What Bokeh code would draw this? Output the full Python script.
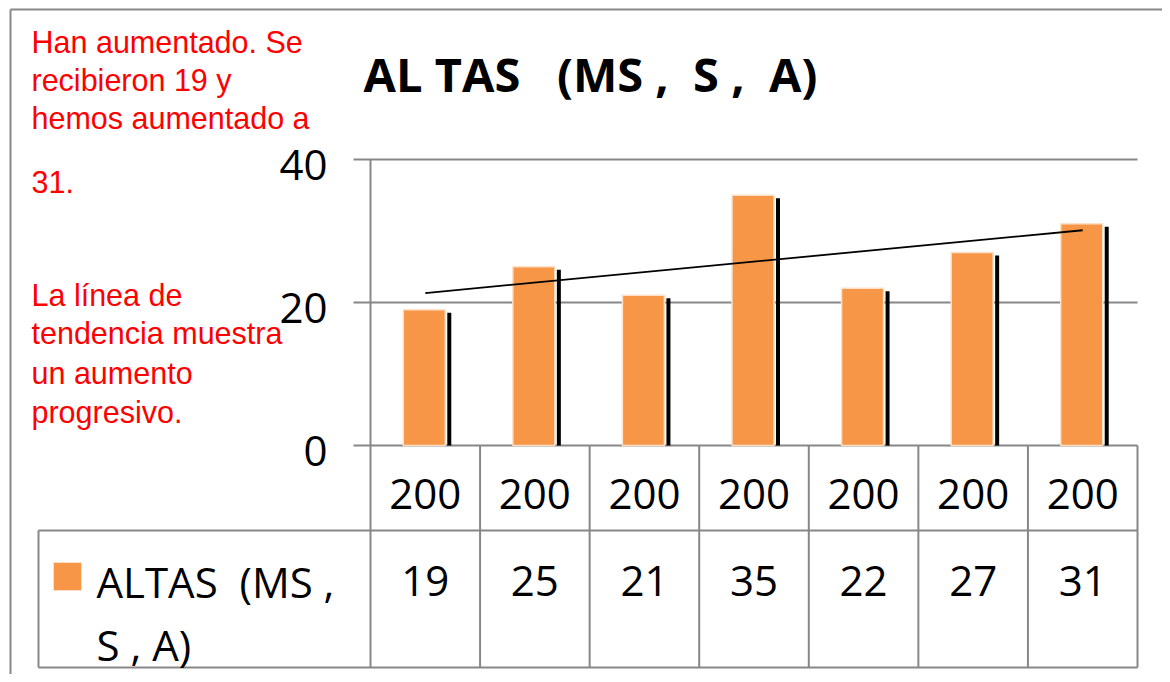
import numpy as np
from bokeh.plotting import figure
from bokeh.models import Range1d
from bokeh.core.properties import value
from bokeh.embed import file_html
from bokeh.resources import INLINE

# ---- data ----
categories = ["200", "200", "200", "200", "200", "200", "200"]
altas = [19, 25, 21, 35, 22, 27, 31]
y_ticks = [0, 20, 40]
NB = "\u00a0"
title_text = "AL" + NB + "TAS" + NB * 3 + "(MS" + NB + "," + NB * 2 + "S" + NB + "," + NB * 2 + "A)"
legend_lines = ["ALTAS" + NB * 2 + "(MS" + NB + ",", "S" + NB + "," + NB + "A)"]
note_lines_top = ["Han aumentado. Se", "recibieron 19 y", "hemos aumentado a"]
note_line_mid = ["31."]
note_lines_bottom = ["La línea de", "tendencia muestra", "un aumento", "progresivo."]

# ---- layout helpers (reference pixel -> data units) ----
X0, X7 = 370.0, 1137.0   # plot left/right edge
Y0, Y40 = 445.0, 159.0   # value 0 / value 40
XS = (X7 - X0) / 7.0
YS = (Y0 - Y40) / 40.0
def px(x):
    return (x - X0) / XS
def py(y):
    return (Y0 - y) / YS

W, H = 1162, 674
p = figure(width=W, height=H, output_backend="svg", toolbar_location=None,
           x_range=Range1d(px(0), px(W)), y_range=Range1d(py(H), py(0)),
           x_axis_type=None, y_axis_type=None, min_border=0)
p.outline_line_color = None
p.grid.visible = False
p.background_fill_color = "white"

GRAY = "#878787"
FONT = value("Open Sans")
n = len(altas)
xc = np.arange(n) + 0.5

# outer frame
p.segment(x0=[px(10), px(10)], y0=[py(9), py(9)], x1=[px(10), px(1300)], y1=[py(800), py(9)],
          line_color=GRAY, line_width=2)

# gridlines (incl. zero line) with tick stubs
p.segment(x0=[px(353)] * len(y_ticks), y0=y_ticks, x1=[n] * len(y_ticks), y1=y_ticks,
          line_color=GRAY, line_width=2)
# y-axis line
p.segment(x0=[0], y0=[0], x1=[0], y1=[max(y_ticks)], line_color=GRAY, line_width=2)

# tick labels
p.text(x=[px(327)] * len(y_ticks), y=[t - 5.5 / YS for t in y_ticks],
       text=[str(t) for t in y_ticks], text_align="right", text_baseline="middle",
       text_font=FONT, text_font_size="42px", text_color="black")

# bars with shadow
vals = np.array(altas, dtype=float)
p.vbar(x=xc + 24 / XS, width=4 / XS, top=vals - 3 / YS, bottom=0, fill_color="black", line_color=None)
p.vbar(x=xc - 1 / XS, width=42 / XS, top=vals, bottom=0, fill_color="#F79646",
       line_color="#FCE0C8", line_width=1.5)

# linear trend line
k, b = np.polyfit(np.arange(1, n + 1), vals, 1)
p.line(x=[xc[0], xc[-1]], y=[k * 1 + b, k * n + b], line_color="black", line_width=1.8)

# data table
row_top, row_mid, row_bot = py(445), py(530), py(667)
p.segment(x0=[px(38), px(38)], y0=[row_mid, row_bot], x1=[n, n], y1=[row_mid, row_bot],
          line_color=GRAY, line_width=2)
p.segment(x0=list(range(n + 1)), y0=[row_top] * (n + 1), x1=list(range(n + 1)), y1=[row_bot] * (n + 1),
          line_color=GRAY, line_width=2)
p.segment(x0=[px(38)], y0=[row_mid], x1=[px(38)], y1=[row_bot], line_color=GRAY, line_width=2)

p.text(x=xc, y=[py(493)] * n, text=categories, text_align="center", text_baseline="middle",
       text_font=FONT, text_font_size="42px", text_color="black")
p.text(x=xc, y=[py(580)] * n, text=[str(v) for v in altas], text_align="center",
       text_baseline="middle", text_font=FONT, text_font_size="42px", text_color="black")

# legend key
p.quad(left=[px(53)], right=[px(81)], top=[py(562)], bottom=[py(590)],
       fill_color="#F79646", line_color="#FCE0C8", line_width=1)
p.text(x=[px(96)] * 2, y=[py(581), py(644)], text=legend_lines, text_align="left",
       text_baseline="middle", text_font=FONT, text_font_size="42px", text_color="black")

# title
p.text(x=[px(590)], y=[py(73)], text=[title_text], text_align="center", text_baseline="middle",
       text_font=FONT, text_font_size="47px", text_font_style="bold", text_color="black")

# red notes
RED_FONT = value("Liberation Sans")
RED_SIZE = "30.5px"
p.text(x=[px(31)] * 3, y=[py(41), py(79), py(117)], text=note_lines_top, text_align="left",
       text_baseline="middle", text_font=RED_FONT, text_font_size=RED_SIZE, text_color="#FF0000")
p.text(x=[px(31)], y=[py(181)], text=note_line_mid, text_align="left",
       text_baseline="middle", text_font=RED_FONT, text_font_size=RED_SIZE, text_color="#FF0000")
p.text(x=[px(31)] * 4, y=[py(294), py(332), py(372), py(411)], text=note_lines_bottom,
       text_align="left", text_baseline="middle", text_font=RED_FONT, text_font_size=RED_SIZE,
       text_color="#FF0000")

open("out.html", "w").write(file_html(p, INLINE))
